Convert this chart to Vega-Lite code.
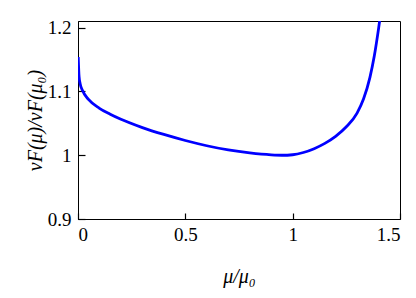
{
  "$schema": "https://vega.github.io/schema/vega-lite/v6.json",
  "autosize": "none",
  "width": 322,
  "height": 198,
  "padding": {"left": 78, "top": 21, "right": 16, "bottom": 79},
  "background": "white",
  "config": {
    "view": {"stroke": "#000", "strokeWidth": 1}
  },
  "data": {
    "values": [
      {"mu": 0.001, "v": 1.154},
      {"mu": 0.005, "v": 1.123},
      {"mu": 0.01, "v": 1.112},
      {"mu": 0.02, "v": 1.102},
      {"mu": 0.05, "v": 1.087},
      {"mu": 0.1, "v": 1.0735},
      {"mu": 0.15, "v": 1.0642},
      {"mu": 0.2, "v": 1.0563},
      {"mu": 0.3, "v": 1.0433},
      {"mu": 0.4, "v": 1.0325},
      {"mu": 0.5, "v": 1.023},
      {"mu": 0.6, "v": 1.0148},
      {"mu": 0.7, "v": 1.0082},
      {"mu": 0.8, "v": 1.0035},
      {"mu": 0.9, "v": 1.0005},
      {"mu": 0.95, "v": 0.9999},
      {"mu": 1.0, "v": 1.0007},
      {"mu": 1.05, "v": 1.0042},
      {"mu": 1.1, "v": 1.0102},
      {"mu": 1.15, "v": 1.0185},
      {"mu": 1.2, "v": 1.0295},
      {"mu": 1.25, "v": 1.0445},
      {"mu": 1.3, "v": 1.066},
      {"mu": 1.33, "v": 1.088},
      {"mu": 1.36, "v": 1.122},
      {"mu": 1.38, "v": 1.155},
      {"mu": 1.4, "v": 1.198},
      {"mu": 1.41, "v": 1.222}
    ]
  },
  "mark": {"type": "line", "color": "#0000ff", "strokeWidth": 2.8, "clip": true, "interpolate": "monotone"},
  "encoding": {
    "x": {
      "field": "mu", "type": "quantitative",
      "scale": {"domain": [0, 1.5], "nice": false, "zero": false},
      "axis": {
        "grid": false,
        "domainColor": "#000",
        "title": "μ/μ₀",
        "titleFont": "Liberation Serif",
        "titleFontStyle": "italic",
        "titleFontWeight": "normal",
        "titleFontSize": 20,
        "titleColor": "#000",
        "titlePadding": 22,
        "values": [0, 0.5, 1, 1.5],
        "format": "~g",
        "tickColor": "black",
        "tickWidth": 1.2,
        "tickSize": -6,
        "labelFont": "Liberation Serif",
        "labelFontSize": 19,
        "labelColor": "#000",
        "labelPadding": 12
      }
    },
    "y": {
      "field": "v", "type": "quantitative",
      "scale": {"domain": [0.9, 1.2103], "nice": false, "zero": false},
      "axis": {
        "grid": false,
        "domainColor": "#000",
        "title": "vF(μ)/vF(μ₀)",
        "titleFont": "Liberation Serif",
        "titleFontStyle": "italic",
        "titleFontWeight": "normal",
        "titleFontSize": 20,
        "titleColor": "#000",
        "titlePadding": 2,
        "values": [0.9, 1, 1.1, 1.2],
        "format": "~g",
        "tickColor": "black",
        "tickWidth": 1.2,
        "tickSize": -7,
        "labelFont": "Liberation Serif",
        "labelFontSize": 19,
        "labelColor": "#000",
        "labelPadding": 14
      }
    }
  }
}
